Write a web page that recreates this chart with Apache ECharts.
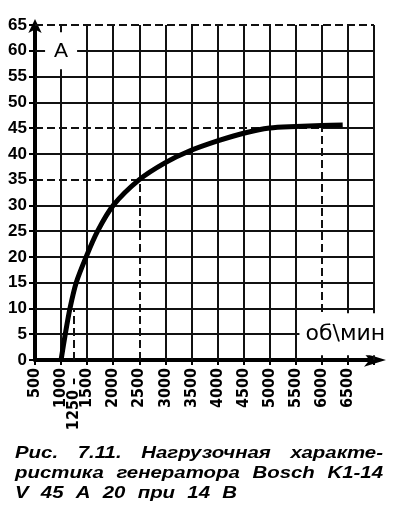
<!DOCTYPE html>
<html lang="ru">
<head>
    <meta charset="UTF-8">
    <title>Bosch K1-14V 45A 20</title>
    <script src="https://cdn.jsdelivr.net/npm/echarts@6.0.0/dist/echarts.min.js"></script>
    <style>
        html, body { margin: 0; padding: 0; background: #fff; }
        #main { width: 400px; height: 512px; }
    </style>
</head>
<body>
<div id="main"></div>
<script>
    // нагрузочная характеристика: обороты -> ток
    var rpm  = [1000, 1080, 1170, 1290, 1480, 1700, 2000, 2500, 3000, 3450, 4000, 4500, 5000, 5500, 6000, 6400];
    var amps = [0, 5, 10, 15, 20, 25, 30, 35, 38.3, 40.5, 42.5, 44, 45, 45.3, 45.5, 45.6];

    var xTicks = [500, 1000, 1500, 2000, 2500, 3000, 3500, 4000, 4500, 5000, 5500, 6000, 6500, 7000];
    var yTicks = [0, 5, 10, 15, 20, 25, 30, 35, 40, 45, 50, 55, 60, 65];

    // пунктирные участки сетки: [значение, от, до]
    var dashV = [[1250, 0, 10], [2500, 0, 35], [6000, 0, 45]];
    var dashH = [[65, 500, 7000], [45, 500, 6000], [35, 500, 2500]];

    var captionLines = [
        'Рис. 7.11. Нагрузочная характе-',
        'ристика генератора Bosch K1-14',
        'V 45 A 20 при 14 B'
    ];
    var captionWidths = [368, 368, 222];   // ширина строки при выключке

    var solidStyle = { color: '#111', width: 2, type: 'solid' };
    var dashStyle = { color: '#111', width: 2, type: [8, 4] };

    function seg(a, b, style) {
        return [{ coord: a, lineStyle: style }, { coord: b }];
    }

    var gridData = [];
    xTicks.slice(1).forEach(function (x) {
        var d = dashV.find(function (v) { return v[0] === x; });
        if (d) {
            gridData.push(seg([x, d[1]], [x, d[2]], dashStyle));
            gridData.push(seg([x, d[2]], [x, 65], solidStyle));
        } else {
            gridData.push(seg([x, 0], [x, 65], solidStyle));
        }
    });
    dashV.forEach(function (d) {
        if (xTicks.indexOf(d[0]) < 0) gridData.push(seg([d[0], d[1]], [d[0], d[2]], dashStyle));
    });
    yTicks.slice(1).forEach(function (y) {
        var d = dashH.find(function (v) { return v[0] === y; });
        if (d) {
            gridData.push(seg([d[1], y], [d[2], y], dashStyle));
            if (d[2] < 7000) gridData.push(seg([d[2], y], [7000, y], solidStyle));
        } else {
            gridData.push(seg([500, y], [7000, y], solidStyle));
        }
    });

    var chart = echarts.init(document.getElementById('main'));

    chart.setOption({
        backgroundColor: '#fff',
        animation: false,
        grid: { left: 35, right: 26, top: 25, bottom: 152 },
        xAxis: {
            type: 'value',
            min: 500,
            max: 7000,
            interval: 500,
            splitLine: { show: false },
            axisLine: {
                lineStyle: { color: '#000', width: 4 },
                symbol: ['none', 'arrow'],
                symbolSize: [10, 22],
                symbolOffset: [0, 12]
            },
            axisTick: { show: true, length: 5, lineStyle: { color: '#000', width: 2 } },
            axisLabel: {
                rotate: 90,
                margin: 8,
                color: '#000',
                fontFamily: '"Liberation Sans Narrow", "DejaVu Sans Condensed", sans-serif',
                fontWeight: 'bold',
                fontSize: 16,
                formatter: function (v) { return v >= 7000 ? '' : String(v); }
            }
        },
        yAxis: {
            type: 'value',
            min: 0,
            max: 65,
            interval: 5,
            splitLine: { show: false },
            axisLine: {
                show: true,
                lineStyle: { color: '#000', width: 4 },
                symbol: ['none', 'arrow'],
                symbolSize: [10, 14],
                symbolOffset: [0, 6]
            },
            axisTick: { show: true, length: 6, lineStyle: { color: '#000', width: 2 } },
            axisLabel: {
                margin: 8,
                color: '#000',
                fontFamily: '"Liberation Sans", Arial, sans-serif',
                fontWeight: 'bold',
                fontSize: 17
            }
        },
        series: [
            {
                type: 'line',
                data: [],
                z: 1,
                silent: true,
                markLine: {
                    silent: true,
                    symbol: 'none',
                    label: { show: false },
                    emphasis: { disabled: true },
                    data: gridData
                }
            },
            {
                type: 'line',
                z: 5,
                data: rpm.map(function (r, i) { return [r, amps[i]]; }),
                smooth: 0.3,
                showSymbol: false,
                lineStyle: { color: '#000', width: 5 }
            }
        ]
    });

    // подписи поверх сетки
    var pA = chart.convertToPixel({ xAxisIndex: 0, yAxisIndex: 0 }, [1000, 60]);
    var pUnit = chart.convertToPixel({ xAxisIndex: 0, yAxisIndex: 0 }, [6450, 5]);
    var p1250 = chart.convertToPixel({ xAxisIndex: 0, yAxisIndex: 0 }, [1250, 0]);

    var graphics = [
        {
            type: 'text', z: 10,
            x: pA[0], y: pA[1],
            style: {
                text: 'A', fill: '#000', font: '21px "Liberation Sans", Arial, sans-serif',
                align: 'center', verticalAlign: 'middle',
                backgroundColor: '#fff', padding: [8, 9]
            }
        },
        {
            type: 'text', z: 10,
            x: pUnit[0], y: pUnit[1],
            style: {
                text: 'об\\мин', fill: '#000', font: '22px "DejaVu Sans", sans-serif',
                align: 'center', verticalAlign: 'middle',
                backgroundColor: '#fff', padding: [10, 6]
            }
        },
        {
            type: 'text', z: 10,
            x: p1250[0], y: p1250[1] + 44,
            rotation: Math.PI / 2,
            style: {
                text: '1250 –', fill: '#000',
                font: 'bold 16px "Liberation Sans Narrow", "DejaVu Sans Condensed", sans-serif',
                align: 'center', verticalAlign: 'middle'
            }
        }
    ];

    // подпись к рисунку: широкий курсив, слова разгоняются по ширине строки
    var capFont = 'italic bold 17px "Liberation Sans", Arial, sans-serif';
    var capScale = 1.2;
    var ctx = document.createElement('canvas').getContext('2d');
    ctx.font = capFont;
    captionLines.forEach(function (line, i) {
        var words = line.split(' ');
        var widths = words.map(function (w) { return ctx.measureText(w).width * capScale; });
        var total = widths.reduce(function (a, b) { return a + b; }, 0);
        var gap = (captionWidths[i] - total) / (words.length - 1);
        var x = 15;
        words.forEach(function (w, j) {
            graphics.push({
                type: 'text', z: 10,
                x: x, y: 462 + i * 20,
                scaleX: capScale,
                style: {
                    text: w, fill: '#000', font: capFont,
                    align: 'left', verticalAlign: 'bottom'
                }
            });
            x += widths[j] + gap;
        });
    });
    chart.setOption({ graphic: graphics });
</script>
</body>
</html>
